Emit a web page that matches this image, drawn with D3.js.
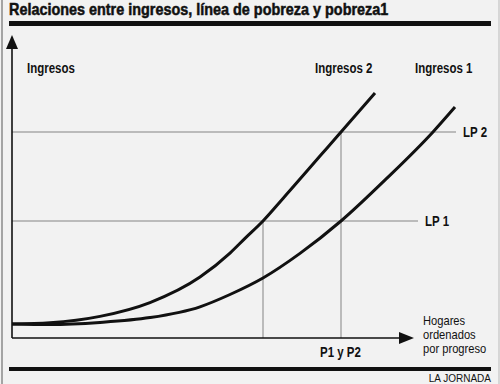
<!DOCTYPE html>
<html>
<head>
<meta charset="utf-8">
<script src="https://cdn.jsdelivr.net/npm/d3@7"></script>
<style>
  body { margin: 0; background: #fff; }
  svg text { font-family: "Liberation Sans", Arial, Helvetica, sans-serif; fill: #111; }
</style>
</head>
<body>
<svg id="chart" width="500" height="384"></svg>
<script>
// households ordered by progress (x) and income (y) for each curve
var hogares2 = [0, 9.5, 22, 34.5, 47, 54.5, 58.25, 62.75, 67.75, 82.25, 90.75];
var ingresos2 = [4.7, 5.1, 7.2, 11.8, 20.3, 28.3, 33.2, 39, 46.5, 68.7, 81.7];
var hogares1 = [0, 9.5, 22, 34.5, 47, 54.5, 62.75, 72, 82.25, 93.75, 105.25, 110.75];
var ingresos1 = [4.7, 4.5, 5.2, 6.8, 10.4, 14.5, 20, 28.2, 39, 53.3, 68.7, 77];

// poverty lines and the points where the curves cross them
var lineasPobreza = [{name: 'LP 1', value: 39, end: 101.5}, {name: 'LP 2', value: 68.7, end: 111}];
var puntosP = [{name: 'P1', x: 62.75, lp: 39}, {name: 'P2', x: 82.25, lp: 68.7}];

var svg = d3.select('#chart');
var W = +svg.attr('width'), H = +svg.attr('height');
var narrow = 0.82; // condensed look: squeeze a regular sans horizontally

// background and side borders
svg.append('rect').attr('width', W).attr('height', H).attr('fill', '#f2f2f2');
svg.append('line').attr('x1', 2).attr('x2', 2).attr('y1', 0).attr('y2', H).attr('stroke', '#8a8a8a').attr('stroke-width', 1.5);
svg.append('line').attr('x1', 499).attr('x2', 499).attr('y1', 0).attr('y2', H).attr('stroke', '#bbb').attr('stroke-width', 1);

function label(t, px, py, size, bold, sx) {
    return svg.append('text').text(t)
        .attr('transform', 'translate(' + px + ',' + py + ') scale(' + (sx || narrow) + ',1)')
        .style('font-size', size + 'px').style('font-weight', bold ? 'bold' : 'normal');
}

// title and rules
label('Relaciones entre ingresos, línea de pobreza y pobreza1', 9, 15, 16, true, 0.9)
    .attr('stroke', '#111').attr('stroke-width', 0.5);
svg.append('rect').attr('x', 9).attr('y', 21).attr('width', 482).attr('height', 5).attr('fill', '#111');
svg.append('rect').attr('x', 9).attr('y', 367).attr('width', 482).attr('height', 4).attr('fill', '#111');
svg.append('text').text('LA JORNADA').attr('x', 491).attr('y', 382)
    .attr('text-anchor', 'end').style('font-size', '10px');

var x = d3.scaleLinear().domain([0, 100]).range([12, 412]);
var y = d3.scaleLinear().domain([0, 100]).range([338, 38]);

// poverty lines
var grid = svg.append('g').attr('stroke', '#a8a8a8').attr('stroke-width', 1.5);
grid.selectAll('.lp').data(lineasPobreza).enter().append('line')
    .attr('x1', x(0)).attr('x2', function(d) { return x(d.end); })
    .attr('y1', function(d) { return y(d.value); }).attr('y2', function(d) { return y(d.value); });
grid.selectAll('.p').data(puntosP).enter().append('line')
    .attr('x1', function(d) { return x(d.x); }).attr('x2', function(d) { return x(d.x); })
    .attr('y1', function(d) { return y(d.lp); }).attr('y2', y(0));

lineasPobreza.forEach(function(d) {
    label(d.name, x(d.end) + 7, y(d.value) + 5, 14, true);
});

// axes with arrowheads
var axes = svg.append('g').attr('stroke', '#111').attr('stroke-width', 1.6);
axes.append('line').attr('x1', x(0)).attr('x2', x(0)).attr('y1', y(0)).attr('y2', 46);
axes.append('line').attr('x1', x(0)).attr('x2', 402).attr('y1', y(0)).attr('y2', y(0));
svg.append('path').attr('d', 'M' + x(0) + ',35 L' + (x(0) - 6) + ',49 L' + (x(0) + 6) + ',49 Z').attr('fill', '#111');
svg.append('path').attr('d', 'M414,' + y(0) + ' L399,' + (y(0) - 6) + ' L399,' + (y(0) + 6) + ' Z').attr('fill', '#111');

// income curves
var line = d3.line().x(function(d) { return x(d[0]); }).y(function(d) { return y(d[1]); })
    .curve(d3.curveMonotoneX);
[d3.zip(hogares1, ingresos1), d3.zip(hogares2, ingresos2)].forEach(function(pts) {
    svg.append('path').attr('d', line(pts)).attr('fill', 'none')
        .attr('stroke', '#111').attr('stroke-width', 3);
});

// labels
label('Ingresos', 27, 73, 14, true);
label('Ingresos 2', 315, 73, 14, true);
label('Ingresos 1', 415, 73, 14, true);
label('P1 y P2', 320, 357, 14, true);
label('Hogares', 423, 325, 12, false, 0.93);
label('ordenados', 423, 339, 12, false, 0.93);
label('por progreso', 423, 353, 12, false, 0.93);
</script>
</body>
</html>
